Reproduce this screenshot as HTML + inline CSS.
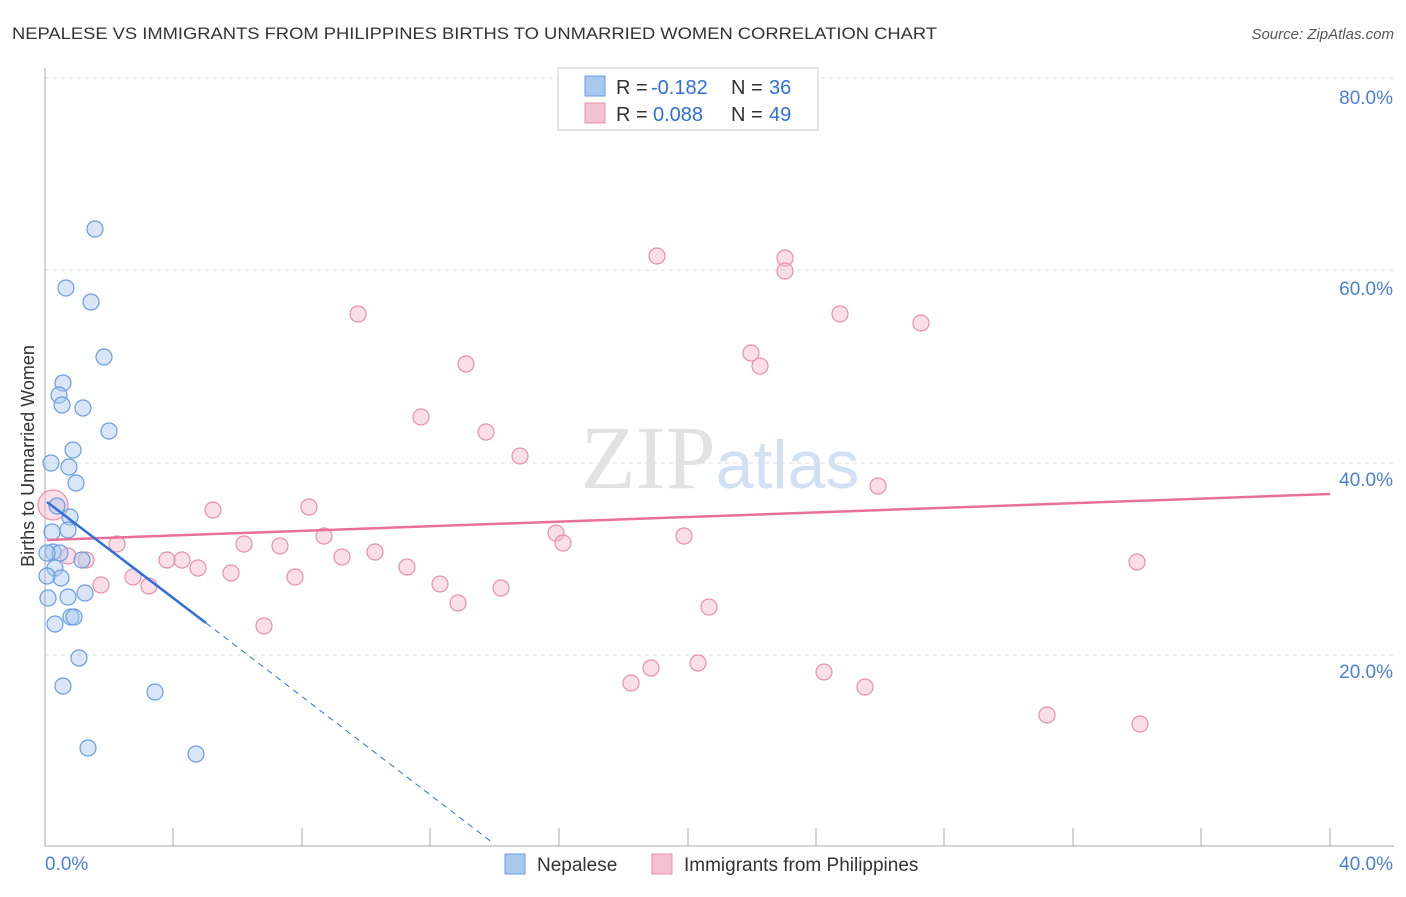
<!DOCTYPE html>
<html><head><meta charset="utf-8"><style>
body{margin:0;background:#fff;font-family:"Liberation Sans",sans-serif}
</style></head><body>
<svg width="1406" height="892" xmlns="http://www.w3.org/2000/svg" font-family="Liberation Sans, sans-serif">
<text x="12" y="39" font-size="17" fill="#333" textLength="925" lengthAdjust="spacingAndGlyphs">NEPALESE VS IMMIGRANTS FROM PHILIPPINES BIRTHS TO UNMARRIED WOMEN CORRELATION CHART</text>
<text x="1394" y="39" font-size="15" fill="#555" text-anchor="end" font-style="italic">Source: ZipAtlas.com</text>
<g stroke="#ddd" stroke-dasharray="4,4"><line x1="45" y1="78" x2="1394" y2="78"/><line x1="45" y1="270" x2="1394" y2="270"/><line x1="45" y1="463" x2="1394" y2="463"/><line x1="45" y1="655" x2="1394" y2="655"/></g>
<line x1="45" y1="68" x2="45" y2="846" stroke="#aaa"/>
<line x1="45" y1="846" x2="1394" y2="846" stroke="#aaa"/>
<g stroke="#aaa"><line x1="173" y1="828" x2="173" y2="846"/><line x1="302" y1="828" x2="302" y2="846"/><line x1="430" y1="828" x2="430" y2="846"/><line x1="559" y1="828" x2="559" y2="846"/><line x1="688" y1="828" x2="688" y2="846"/><line x1="816" y1="828" x2="816" y2="846"/><line x1="944" y1="828" x2="944" y2="846"/><line x1="1073" y1="828" x2="1073" y2="846"/><line x1="1201" y1="828" x2="1201" y2="846"/><line x1="1330" y1="828" x2="1330" y2="846"/></g>
<g font-size="19" fill="#4a7fd8" text-anchor="end"><text x="1393" y="104">80.0%</text><text x="1393" y="295">60.0%</text><text x="1393" y="486">40.0%</text><text x="1393" y="678">20.0%</text><text x="1393" y="870">40.0%</text></g>
<text x="45" y="870" font-size="19" fill="#4a7fd8">0.0%</text>
<text transform="translate(34,456) rotate(-90)" font-size="18" fill="#333" text-anchor="middle">Births to Unmarried Women</text>
<text x="720" y="488" font-size="90" fill="#e2e2e2" text-anchor="middle" font-family="Liberation Serif, serif">ZIP<tspan fill="#d2e0f4" font-family="Liberation Sans, sans-serif" font-size="68">atlas</tspan></text>
<g fill="#f5b8cc" fill-opacity="0.45" stroke="#e890aa" stroke-width="1.2">
<circle cx="53" cy="505" r="15"/>
<circle cx="68" cy="556" r="8"/><circle cx="86" cy="560" r="8"/><circle cx="117" cy="544" r="8"/><circle cx="101" cy="585" r="8"/><circle cx="133" cy="577" r="8"/><circle cx="149" cy="586" r="8"/><circle cx="167" cy="560" r="8"/><circle cx="182" cy="560" r="8"/><circle cx="198" cy="568" r="8"/><circle cx="213" cy="510" r="8"/><circle cx="231" cy="573" r="8"/><circle cx="244" cy="544" r="8"/><circle cx="264" cy="626" r="8"/><circle cx="280" cy="546" r="8"/><circle cx="295" cy="577" r="8"/><circle cx="309" cy="507" r="8"/><circle cx="324" cy="536" r="8"/><circle cx="342" cy="557" r="8"/><circle cx="358" cy="314" r="8"/><circle cx="375" cy="552" r="8"/><circle cx="407" cy="567" r="8"/><circle cx="421" cy="417" r="8"/><circle cx="440" cy="584" r="8"/><circle cx="458" cy="603" r="8"/><circle cx="466" cy="364" r="8"/><circle cx="486" cy="432" r="8"/><circle cx="501" cy="588" r="8"/><circle cx="520" cy="456" r="8"/><circle cx="556" cy="533" r="8"/><circle cx="563" cy="543" r="8"/><circle cx="631" cy="683" r="8"/><circle cx="651" cy="668" r="8"/><circle cx="657" cy="256" r="8"/><circle cx="684" cy="536" r="8"/><circle cx="698" cy="663" r="8"/><circle cx="709" cy="607" r="8"/><circle cx="751" cy="353" r="8"/><circle cx="760" cy="366" r="8"/><circle cx="785" cy="258" r="8"/><circle cx="785" cy="271" r="8"/><circle cx="824" cy="672" r="8"/><circle cx="840" cy="314" r="8"/><circle cx="865" cy="687" r="8"/><circle cx="878" cy="486" r="8"/><circle cx="921" cy="323" r="8"/><circle cx="1047" cy="715" r="8"/><circle cx="1137" cy="562" r="8"/><circle cx="1140" cy="724" r="8"/>
</g>
<g fill="#a9c8f0" fill-opacity="0.45" stroke="#6a9de0" stroke-width="1.2">
<circle cx="95" cy="229" r="8"/><circle cx="66" cy="288" r="8"/><circle cx="91" cy="302" r="8"/><circle cx="104" cy="357" r="8"/><circle cx="63" cy="383" r="8"/><circle cx="59" cy="395" r="8"/><circle cx="62" cy="405" r="8"/><circle cx="83" cy="408" r="8"/><circle cx="109" cy="431" r="8"/><circle cx="73" cy="450" r="8"/><circle cx="51" cy="463" r="8"/><circle cx="69" cy="467" r="8"/><circle cx="76" cy="483" r="8"/><circle cx="57" cy="506" r="8"/><circle cx="70" cy="517" r="8"/><circle cx="68" cy="530" r="8"/><circle cx="52" cy="532" r="8"/><circle cx="53" cy="552" r="8"/><circle cx="60" cy="553" r="8"/><circle cx="47" cy="553" r="8"/><circle cx="82" cy="560" r="8"/><circle cx="55" cy="568" r="8"/><circle cx="61" cy="578" r="8"/><circle cx="47" cy="576" r="8"/><circle cx="68" cy="597" r="8"/><circle cx="85" cy="593" r="8"/><circle cx="48" cy="598" r="8"/><circle cx="71" cy="617" r="8"/><circle cx="74" cy="617" r="8"/><circle cx="55" cy="624" r="8"/><circle cx="79" cy="658" r="8"/><circle cx="63" cy="686" r="8"/><circle cx="155" cy="692" r="8"/><circle cx="88" cy="748" r="8"/><circle cx="196" cy="754" r="8"/>
</g>
<line x1="47" y1="540" x2="1330" y2="494" stroke="#e8709a" stroke-width="2.5"/>
<line x1="47" y1="502" x2="206" y2="623" stroke="#2f6fdb" stroke-width="2.5"/>
<line x1="206" y1="623" x2="493" y2="843" stroke="#2f6fdb" stroke-width="1" stroke-dasharray="6,5"/>
<rect x="558" y="68" width="260" height="62" fill="#fff" stroke="#ccc"/>
<rect x="585" y="76" width="20" height="20" fill="#a9c8f0" stroke="#6a9de0"/>
<rect x="585" y="103" width="20" height="20" fill="#f5c0d2" stroke="#e890aa"/>
<g font-size="20" fill="#333"><text x="616" y="94">R =</text><text x="731" y="94">N =</text><text x="616" y="121">R =</text><text x="731" y="121">N =</text></g>
<g font-size="20" fill="#2f6fdb"><text x="651" y="94">-0.182</text><text x="769" y="94">36</text><text x="653" y="121">0.088</text><text x="769" y="121">49</text></g>
<rect x="505" y="854" width="20" height="20" fill="#a9c8f0" stroke="#6a9de0"/>
<text x="537" y="871" font-size="19" fill="#333">Nepalese</text>
<rect x="652" y="854" width="20" height="20" fill="#f5c0d2" stroke="#e890aa"/>
<text x="684" y="871" font-size="19" fill="#333">Immigrants from Philippines</text>
</svg>
</body></html>
